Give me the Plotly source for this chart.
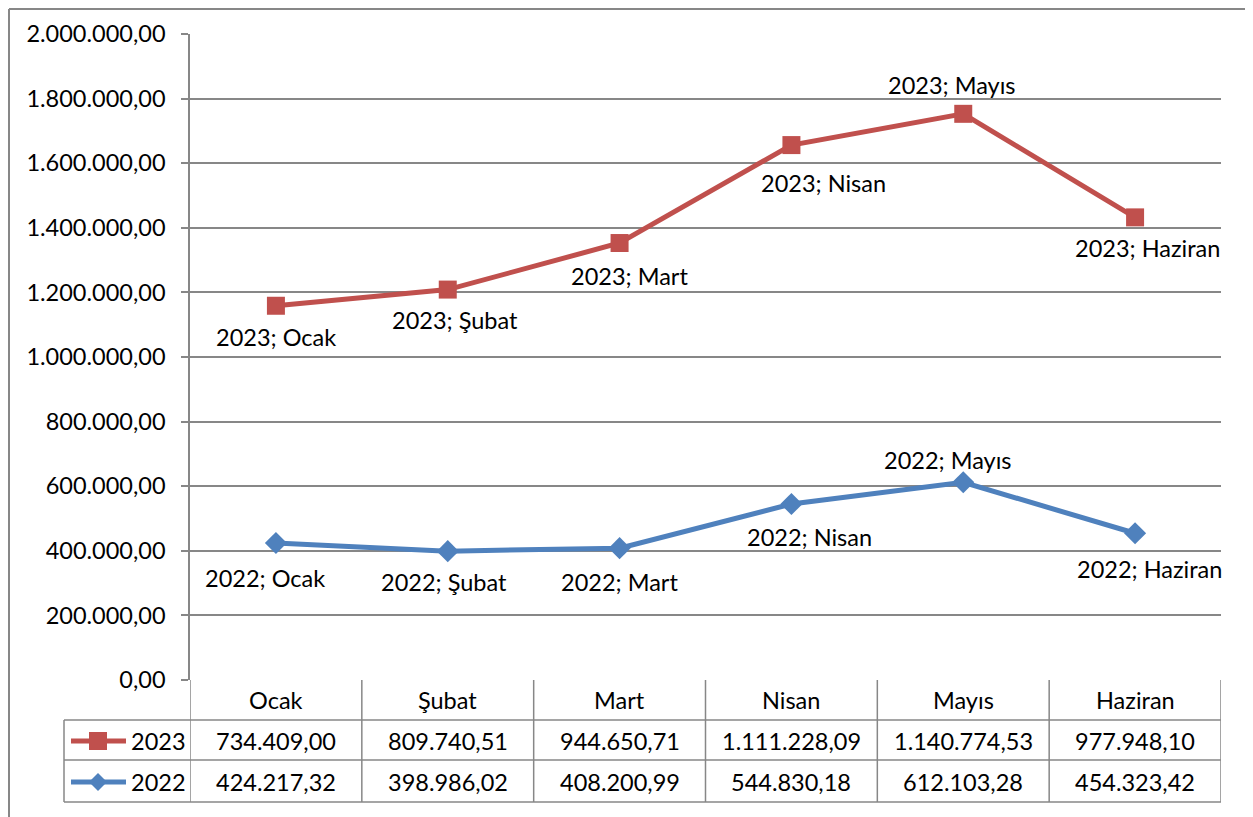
import plotly.graph_objects as go

# veriler
aylar = ["Ocak", "Şubat", "Mart", "Nisan", "Mayıs", "Haziran"]
y2023 = [734409.00, 809740.51, 944650.71, 1111228.09, 1140774.53, 977948.10]
y2022 = [424217.32, 398986.02, 408200.99, 544830.18, 612103.28, 454323.42]
y_ticks = [0, 200000, 400000, 600000, 800000, 1000000, 1200000, 1400000, 1600000, 1800000, 2000000]

KIRMIZI = "#C0504D"
MAVI = "#4F81BD"
GRI = "#878787"
FONT = "Lato"
FS = 23.5

# sayfa gövdesinin 8px kenar boşluğu var
OFF = 8
W, H = 1253 - OFF, 817 - OFF
L, R, T, B = 190, 1221, 34, 680   # ekran koordinatlari


def px_x(p):
    return (p - L) / (R - L)


def px_y(p):
    return (B - p) / (B - T)


def tr(v):
    # Türkçe sayı biçimi
    s = f"{v:,.2f}"
    return s.replace(",", "X").replace(".", ",").replace("X", ".")


fig = go.Figure()
# 2022 alt seri, 2023 üstüne yığılıyor (Excel yığılmış çizgi)
fig.add_trace(go.Scatter(x=aylar, y=y2022, name="2022", stackgroup="a", fill="none",
                         mode="lines+markers", line=dict(color=MAVI, width=5),
                         marker=dict(symbol="diamond", size=17, color=MAVI)))
fig.add_trace(go.Scatter(x=aylar, y=y2023, name="2023", stackgroup="a", fill="none",
                         mode="lines+markers", line=dict(color=KIRMIZI, width=5),
                         marker=dict(symbol="square", size=18, color=KIRMIZI)))

# veri etiketleri (kaydırmalar)
kay2023 = [(0, -31), (7, -30), (10, -33), (32, -38), (-11, 29), (12, -31)]
kay2022 = [(-11, -35), (-4, -31), (0, -34), (18, -33), (-15, 22), (14, -36)]
toplam = [a + b for a, b in zip(y2022, y2023)]
ann = []
for i, ay in enumerate(aylar):
    ann.append(dict(x=ay, y=toplam[i], text="2023; " + ay, showarrow=False,
                    xanchor="center", yanchor="middle",
                    xshift=kay2023[i][0], yshift=kay2023[i][1]))
    ann.append(dict(x=ay, y=y2022[i], text="2022; " + ay, showarrow=False,
                    xanchor="center", yanchor="middle",
                    xshift=kay2022[i][0], yshift=kay2022[i][1]))

# veri tablosu
satir = [680, 720, 760, 802]
ann_kw = dict(showarrow=False, xref="x", yref="paper", xanchor="center", yanchor="middle")
for i, ay in enumerate(aylar):
    ann.append(dict(x=i, y=px_y(700), text=ay, **ann_kw))
    ann.append(dict(x=i, y=px_y(741), text=tr(y2023[i]), **ann_kw))
    ann.append(dict(x=i, y=px_y(782), text=tr(y2022[i]), **ann_kw))
for yy, lab in [(741, "2023"), (782, "2022")]:
    ann.append(dict(x=px_x(129), y=px_y(yy), text=lab, showarrow=False, xref="paper",
                    yref="paper", xanchor="left", yanchor="middle"))

shapes = []
ln = dict(color=GRI, width=1.5)
for yy in satir[1:]:
    shapes.append(dict(type="line", xref="paper", yref="paper", x0=px_x(64), x1=1,
                       y0=px_y(yy), y1=px_y(yy), line=ln))
shapes.append(dict(type="line", xref="paper", yref="paper", x0=px_x(64), x1=px_x(64),
                   y0=px_y(720), y1=px_y(802), line=ln))
for k in range(len(aylar) + 1):
    shapes.append(dict(type="line", xref="x", yref="paper", x0=k - 0.5, x1=k - 0.5,
                       y0=0, y1=px_y(802), line=ln))
# lejant örnekleri
shapes.append(dict(type="line", xref="paper", yref="paper", x0=px_x(71), x1=px_x(126),
                   y0=px_y(741), y1=px_y(741), line=dict(color=KIRMIZI, width=5)))
shapes.append(dict(type="rect", xref="paper", yref="paper", x0=px_x(89), x1=px_x(107),
                   y0=px_y(732), y1=px_y(750), fillcolor=KIRMIZI, line=dict(width=0)))
shapes.append(dict(type="line", xref="paper", yref="paper", x0=px_x(71), x1=px_x(126),
                   y0=px_y(782), y1=px_y(782), line=dict(color=MAVI, width=5)))
shapes.append(dict(type="path", xref="paper", yref="paper",
                   path="M {a},{b} L {c},{d} L {a},{e} L {f},{d} Z".format(
                       a=px_x(98), b=px_y(773), c=px_x(107), d=px_y(782), e=px_y(791), f=px_x(89)),
                   fillcolor=MAVI, line=dict(width=0)))
# dış çerçeve (sol, üst, sağ)
cer = dict(color=GRI, width=2)
x_sol, x_sag, y_ust, y_alt = px_x(9), px_x(1250), px_y(9), px_y(830)
shapes.append(dict(type="line", xref="paper", yref="paper", x0=x_sol, x1=x_sol,
                   y0=y_alt, y1=y_ust, line=cer))
shapes.append(dict(type="line", xref="paper", yref="paper", x0=x_sag, x1=x_sag,
                   y0=y_alt, y1=y_ust, line=cer))
shapes.append(dict(type="line", xref="paper", yref="paper", x0=x_sol, x1=x_sag,
                   y0=y_ust, y1=y_ust, line=cer))

fig.update_layout(
    width=W, height=H,
    margin=dict(l=L - OFF, r=1253 - R, t=T - OFF, b=817 - B),
    plot_bgcolor="white", paper_bgcolor="white",
    separators=",.",
    showlegend=False,
    font=dict(family=FONT, size=FS, color="black"),
    annotations=ann, shapes=shapes,
)
fig.update_xaxes(type="category", range=[-0.5, 5.5], showticklabels=False,
                 showgrid=False, zeroline=False, showline=False)
fig.update_yaxes(range=[0, 2000000], tickvals=y_ticks, tickformat=",.2f",
                 showgrid=True, gridcolor=GRI, gridwidth=1.5, zeroline=False,
                 showline=True, linecolor=GRI, linewidth=1.5,
                 ticks="outside", ticklen=7, tickcolor=GRI, tickwidth=1.5,
                 ticklabelstandoff=11, tickfont=dict(size=FS))

fig.write_html("out.html")
